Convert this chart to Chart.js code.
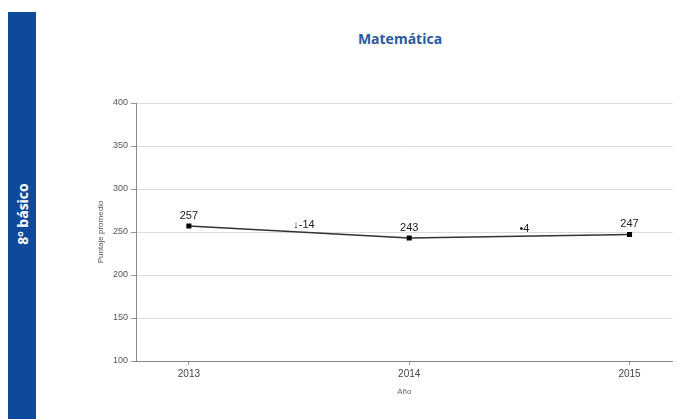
<!DOCTYPE html>
<html>
<head>
<meta charset="utf-8">
<script src="https://cdn.jsdelivr.net/npm/chart.js@4/dist/chart.umd.min.js"></script>
<style>
  body { margin: 0; background: #fff; width: 678px; height: 419px; overflow: hidden; position: relative; font-family: "Liberation Sans", Arial, sans-serif; }
  .side { position: absolute; left: 8px; top: 12px; width: 28px; height: 407px; background: #0d4a9b; }
  .side span { position: absolute; left: 50%; top: 202px; transform: translate(-50%, -50%) rotate(-90deg); color: #fff; font: bold 14px "Open Sans", sans-serif; white-space: nowrap; }
  .title { position: absolute; left: 300px; width: 200px; top: 29px; text-align: center; color: #2d5a9b; font: bold 14px "Open Sans", sans-serif; }
  .wrap { position: absolute; left: 80px; top: 0; width: 598px; height: 419px; }
</style>
</head>
<body>
<div class="side"><span>8º básico</span></div>
<div class="title">Matemática</div>
<div class="wrap"><canvas id="chart"></canvas></div>
<script>
const years = [2013, 2014, 2015];
const scores = [257, 243, 247];
const changes = ['↓-14', '•4'];

// point labels + change labels between years
const labelsPlugin = {
  id: 'labels',
  afterDatasetsDraw(chart) {
    const ctx = chart.ctx;
    const xs = chart.scales.x, ys = chart.scales.y;
    ctx.save();
    ctx.fillStyle = '#222';
    ctx.font = '11px "Liberation Sans", Arial, sans-serif';
    ctx.textAlign = 'center';
    ctx.textBaseline = 'bottom';
    chart.getDatasetMeta(0).data.forEach((pt, i) => {
      ctx.fillText(String(scores[i]), pt.x, pt.y - 5);
    });
    ctx.textBaseline = 'middle';
    changes.forEach((txt, i) => {
      const x = xs.getPixelForValue((years[i] + years[i + 1]) / 2);
      const y = ys.getPixelForValue((scores[i] + scores[i + 1]) / 2);
      ctx.fillText(txt, x + 5, y - 7);
    });
    ctx.restore();
  }
};

new Chart(document.getElementById('chart'), {
  type: 'line',
  data: {
    datasets: [{
      data: years.map((y, i) => ({ x: y, y: scores[i] })),
      borderColor: '#333',
      borderWidth: 1.5,
      pointStyle: 'rect',
      pointRadius: 2.5,
      pointBackgroundColor: '#000',
      pointBorderColor: '#000',
      tension: 0
    }]
  },
  options: {
    responsive: true,
    maintainAspectRatio: false,
    animation: false,
    layout: { padding: { top: 103, right: 0, bottom: 18, left: 12 } },
    plugins: { legend: { display: false }, tooltip: { enabled: false } },
    scales: {
      x: {
        type: 'linear',
        min: 2012.76,
        max: 2015.195,
        afterBuildTicks: (s) => { s.ticks = years.map(v => ({ value: v })); },
        afterFit: (s) => { s.height = 40; },
        ticks: { color: '#444', font: { size: 10, family: '"Liberation Sans", Arial' }, padding: 3, callback: v => String(v) },
        grid: { drawOnChartArea: false, tickLength: 4, tickColor: '#999' },
        border: { color: '#888' },
        title: { display: true, text: 'Año', color: '#666', font: { size: 8, family: '"Liberation Sans", Arial' }, padding: { top: 4 } }
      },
      y: {
        min: 100,
        max: 400,
        afterFit: (s) => { s.width = 44; },
        ticks: { stepSize: 50, color: '#555', font: { size: 9, family: '"Liberation Sans", Arial' }, padding: 3 },
        grid: { color: '#dcdcdc', tickLength: 5, tickColor: '#999' },
        border: { color: '#888' },
        title: { display: true, text: 'Puntaje promedio', color: '#555', font: { size: 8, family: '"Liberation Sans", Arial' }, padding: { bottom: 8 } }
      }
    }
  },
  plugins: [labelsPlugin]
});
</script>
</body>
</html>
